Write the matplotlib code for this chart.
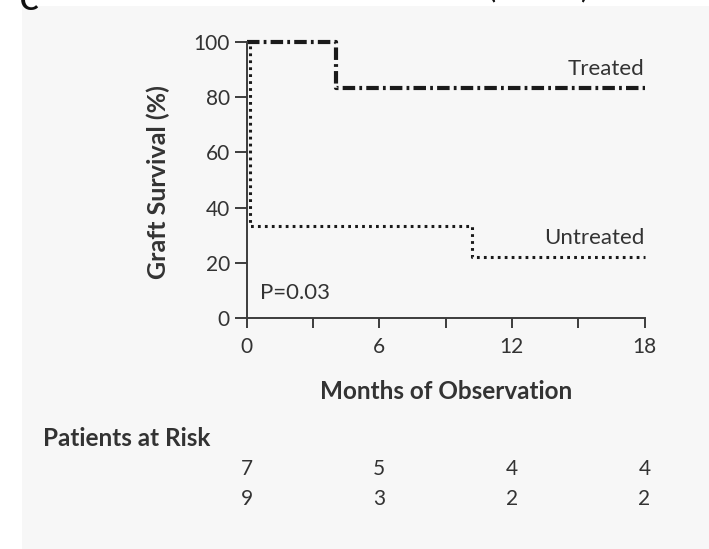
#!/usr/bin/env python3
"""Kaplan-Meier style graft survival plot with patients-at-risk table."""
import matplotlib
matplotlib.use("Agg")
import matplotlib.pyplot as plt
from matplotlib.patches import Rectangle
from matplotlib.transforms import blended_transform_factory

# data
treated_months = [0, 4.05, 18]
treated_surv = [100, 83.3, 83.3]
untreated_months = [0, 0.15, 10.2, 18]
untreated_surv = [100, 33.3, 22.2, 22.2]
x_ticks = [0, 6, 12, 18]
x_minor = [3, 9, 15]
y_ticks = [0, 20, 40, 60, 80, 100]
risk_treated = [7, 5, 4, 4]
risk_untreated = [9, 3, 2, 2]

W, H = 709, 549
plt.rcParams['font.family'] = ['Lato', 'DejaVu Sans']
plt.rcParams['lines.scale_dashes'] = False
txt = '#333333'
axc = '#3c3c3c'


def fx(px):
    return px / W


def fy(py):
    return 1 - py / H


fig = plt.figure(figsize=(W / 100, H / 100), dpi=100, facecolor='white')
fig.patches.append(Rectangle((fx(22), 0), 1 - fx(22), fy(6), transform=fig.transFigure,
                             facecolor='#f7f7f7', edgecolor='none', zorder=-5))

# clipped remains of the panel letter / title above the panel
fig.text(fx(20), fy(10), 'C', fontsize=20, fontweight='bold', color='#111111',
         va='baseline', ha='left')
fig.text(fx(488), fy(-3), '(', fontsize=22, color='#111111', va='baseline', ha='left')
fig.text(fx(580), fy(-3), ')', fontsize=22, color='#111111', va='baseline', ha='left')

ax = fig.add_axes([fx(246.5), fy(318), fx(644.5) - fx(246.5), fy(42) - fy(318)])
ax.set_facecolor('none')

ax.step(treated_months, treated_surv, where='post', color='#1a1a1a', lw=3.0,
        linestyle=(0, (9, 3, 2, 3)), dash_capstyle='butt', clip_on=False)
ax.step(untreated_months, untreated_surv, where='post', color='#1a1a1a', lw=2.2,
        linestyle=(0, (2, 3.0)), dash_capstyle='butt', clip_on=False)

ax.set_xlim(0, 18)
ax.set_ylim(0, 100)
for s in ['top', 'right']:
    ax.spines[s].set_visible(False)
for s in ['left', 'bottom']:
    ax.spines[s].set_color(axc)
    ax.spines[s].set_linewidth(1.4)

ax.set_xticks(x_ticks)
ax.set_xticks(x_minor, minor=True)
ax.set_yticks(y_ticks)
ax.tick_params(axis='x', which='both', length=7, width=1.4, color=axc, labelsize=15,
               labelcolor=txt, pad=7)
ax.tick_params(axis='y', length=9, width=1.4, color=axc, labelsize=15,
               labelcolor=txt, pad=3)

ax.text(18, 86.5, 'Treated', ha='right', va='bottom', fontsize=16, color=txt)
ax.text(18, 25.5, 'Untreated', ha='right', va='bottom', fontsize=16, color=txt)
ax.text(0.6, 9, 'P=0.03', ha='left', va='center', fontsize=16, color=txt)

fig.text(fx(158), fy(182), 'Graft Survival (%)', rotation=90, ha='center', va='center',
         fontsize=18, fontweight='bold', color=txt)
fig.text(fx(446), fy(399), 'Months of Observation', ha='center', va='baseline',
         fontsize=17.5, fontweight='bold', color=txt)
fig.text(fx(43), fy(446), 'Patients at Risk', ha='left', va='baseline',
         fontsize=17.5, fontweight='bold', color=txt)

tr = blended_transform_factory(ax.transData, fig.transFigure)
for m, a, b in zip(x_ticks, risk_treated, risk_untreated):
    ax.text(m, fy(475), str(a), transform=tr, ha='center', va='baseline', fontsize=15, color=txt)
    ax.text(m, fy(505), str(b), transform=tr, ha='center', va='baseline', fontsize=15, color=txt)

fig.savefig('out.png', dpi=100, facecolor='white')
